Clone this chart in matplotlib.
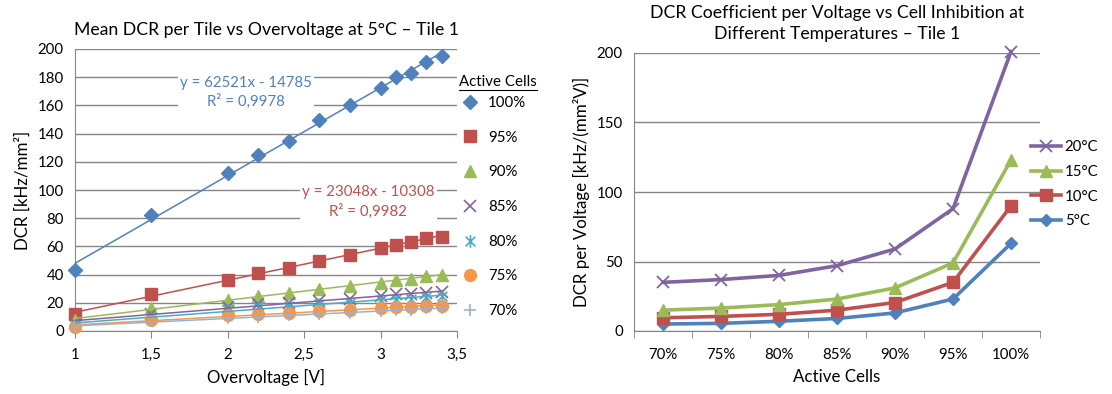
import matplotlib
matplotlib.use("Agg")
import matplotlib.pyplot as plt
from matplotlib.lines import Line2D
from matplotlib.path import Path
import numpy as np

plt.rcParams['font.family'] = ['Lato', 'DejaVu Sans']

# ---- left chart data: mean DCR [kHz/mm2] vs overvoltage at 5 C ----
overvoltage = [1, 1.5, 2, 2.2, 2.4, 2.6, 2.8, 3, 3.1, 3.2, 3.3, 3.4]
dcr_100 = [43, 82, 112, 125, 135, 150, 160, 172, 180, 183, 191, 195]
dcr_95 = [12, 26, 36, 41, 45, 50, 54, 59, 61, 63, 66, 67]
dcr_90 = [8, 16, 22, 25, 27, 30, 32, 34, 36, 37, 39, 40]
dcr_85 = [6, 12, 17, 19, 20, 21, 23, 25, 26, 26, 27, 28]
dcr_80 = [4, 10, 15, 17, 18, 19, 20, 22, 23, 23, 24, 25]
dcr_75 = [3, 8, 11, 12, 13, 14, 15, 16, 17, 17, 18, 18]
dcr_70 = [3, 7, 9, 10, 11, 12, 13, 14, 15, 15, 16, 16]
left_labels = ['100%', '95%', '90%', '85%', '80%', '75%', '70%']
left_xticks = [1, 1.5, 2, 2.5, 3, 3.5]
left_xticklabels = ['1', '1,5', '2', '2,5', '3', '3,5']
fit_100_text = 'y = 62521x - 14785\nR² = 0,9978'
fit_95_text = 'y = 23048x - 10308\nR² = 0,9982'

# ---- right chart data: DCR per voltage [kHz/(mm2 V)] vs active cells ----
active_cells = ['70%', '75%', '80%', '85%', '90%', '95%', '100%']
coef_5c = [5, 5.5, 7, 9, 13, 23, 63]
coef_10c = [9.5, 10.5, 12, 15, 20.5, 35, 90]
coef_15c = [15, 16.5, 19, 23, 31, 49, 123]
coef_20c = [35, 37, 40, 47, 59, 88, 201]
temp_labels = ['5°C', '10°C', '15°C', '20°C']

BLUE = '#4F81BD'
RED = '#C0504D'
GREEN = '#9BBB59'
PURPLE = '#8064A2'
TEAL = '#4BACC6'
ORANGE = '#F79646'
LIGHTBLUE = '#95B3D7'
GRID = '#868686'

# asterisk marker (x with a vertical bar) like Excel's star
star = Path([(-1, -1), (1, 1), (-1, 1), (1, -1), (0, -1.3), (0, 1.3)],
            [Path.MOVETO, Path.LINETO, Path.MOVETO, Path.LINETO, Path.MOVETO, Path.LINETO])

W, H = 1112, 394
fig = plt.figure(figsize=(W / 100, H / 100), dpi=100)


def px_axes(x0, x1, y_top, y_bot):
    return fig.add_axes([x0 / W, 1 - y_bot / H, (x1 - x0) / W, (y_bot - y_top) / H])


def style_axes(ax):
    ax.spines['top'].set_visible(False)
    ax.spines['right'].set_visible(False)
    ax.spines['left'].set_color(GRID)
    ax.spines['bottom'].set_color(GRID)
    ax.grid(axis='y', color=GRID, lw=1)
    ax.set_axisbelow(True)
    ax.tick_params(axis='y', length=0, labelsize=10.8, pad=8)
    ax.tick_params(axis='x', direction='out', length=5, color=GRID, labelsize=10.8, pad=7)


# ================= left chart =================
ax1 = px_axes(75, 457, 49, 331)
style_axes(ax1)

series = [
    (dcr_100, 'D', BLUE, 7.5),
    (dcr_95, 's', RED, 8.5),
    (dcr_90, '^', GREEN, 8.5),
    (dcr_85, 'x', PURPLE, 8),
    (dcr_80, star, TEAL, 9),
    (dcr_75, 'o', ORANGE, 8.5),
    (dcr_70, '+', LIGHTBLUE, 9),
]
x = np.array(overvoltage)
handles = []
for (vals, mk, col, ms), lab in zip(series, left_labels):
    if mk in ('x', '+') or mk is star:
        h, = ax1.plot(x, vals, ls='none', marker=mk, ms=ms, mec=col, mfc='none',
                      mew=1.2, label=lab, zorder=3, clip_on=False)
    else:
        h, = ax1.plot(x, vals, ls='none', marker=mk, ms=ms, color=col,
                      mec=col, label=lab, zorder=3, clip_on=False)
    handles.append(h)
    # linear trendline
    k, b = np.polyfit(x, vals, 1)
    ax1.plot(x[[0, -1]], k * x[[0, -1]] + b, color=col, lw=1.1, zorder=4)

ax1.set_xlim(1, 3.5)
ax1.set_ylim(0, 200)
ax1.set_yticks(range(0, 201, 20))
ax1.set_xticks(left_xticks)
ax1.set_xticklabels(left_xticklabels)
ax1.set_title('Mean DCR per Tile vs Overvoltage at 5°C – Tile 1', fontsize=12.7, pad=10)
ax1.set_xlabel('Overvoltage [V]', fontsize=12.2, labelpad=5)
ax1.set_ylabel('DCR [kHz/mm²]', fontsize=12.2, labelpad=5)

box = dict(facecolor='white', edgecolor='none', pad=1.5)
ax1.text(2.12, 169, fit_100_text, color=BLUE, fontsize=10.8, ha='center', va='center',
         linespacing=1.35, bbox=box, zorder=5)
ax1.text(2.92, 91.5, fit_95_text, color=RED, fontsize=10.8, ha='center', va='center',
         linespacing=1.35, bbox=box, zorder=5)

fig.legend(handles=handles, loc='upper left', bbox_to_anchor=(461 / W, 1 - 96 / H),
           frameon=False, fontsize=10.8, labelspacing=1.38, handlelength=1.2,
           handletextpad=0.6, borderpad=0, borderaxespad=0)
t_title = fig.text(459 / W, 1 - 82 / H, 'Active Cells', fontsize=10.8, ha='left', va='center')

# ================= right chart =================
ax2 = px_axes(634, 1040, 53, 331)
style_axes(ax2)
pos = np.arange(len(active_cells))
right_series = [
    (coef_5c, 'D', BLUE, 6.5),
    (coef_10c, 's', RED, 8.5),
    (coef_15c, '^', GREEN, 8.5),
    (coef_20c, 'x', PURPLE, 9),
]
rhandles = []
for (vals, mk, col, ms), lab in zip(right_series, temp_labels):
    if mk == 'x':
        h, = ax2.plot(pos, vals, color=col, lw=2.6, marker=mk, ms=ms, mew=1.3,
                      label=lab, clip_on=False, zorder=3)
    else:
        h, = ax2.plot(pos, vals, color=col, lw=2.6, marker=mk, ms=ms,
                      label=lab, clip_on=False, zorder=3)
    rhandles.append(h)

ax2.set_xlim(-0.5, len(active_cells) - 0.5)
ax2.set_ylim(0, 200)
ax2.set_yticks([0, 50, 100, 150, 200])
ax2.set_xticks(pos)
ax2.set_xticklabels(active_cells)
ax2.tick_params(axis='x', length=0, pad=12)
ax2.set_xticks(np.arange(-0.5, len(active_cells)), minor=True)
ax2.tick_params(axis='x', which='minor', direction='out', length=5, color=GRID)
ax2.set_title('DCR Coefficient per Voltage vs Cell Inhibition at\nDifferent Temperatures – Tile 1',
              fontsize=12.7, pad=10, linespacing=1.4)
ax2.set_xlabel('Active Cells', fontsize=12.2, labelpad=5)
ax2.set_ylabel('DCR per Voltage [kHz/(mm²V)]', fontsize=12.2, labelpad=5)

fig.legend(handles=rhandles[::-1], loc='upper left', bbox_to_anchor=(1031 / W, 1 - 140 / H),
           frameon=False, fontsize=10.8, labelspacing=0.72, handlelength=2.0,
           handletextpad=0.25, borderpad=0, borderaxespad=0)

# underline for the left legend title
fig.canvas.draw()
bb = t_title.get_window_extent()
fig.add_artist(Line2D([bb.x0 / W, bb.x1 / W], [(bb.y0 - 1) / H, (bb.y0 - 1) / H],
                      transform=fig.transFigure, color='black', lw=0.8))

fig.savefig('out.png', dpi=100)
